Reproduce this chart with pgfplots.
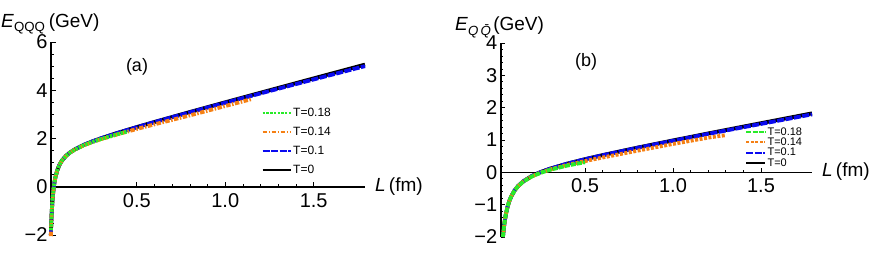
\documentclass[border=0pt]{standalone}
\usepackage{pgfplots}
\pgfplotsset{compat=1.18}
\usepackage{fontspec}
\setmainfont{Liberation Sans}
\definecolor{cgreen}{RGB}{40,235,40}
\definecolor{corange}{RGB}{245,128,20}
\definecolor{cblue}{RGB}{10,10,240}
\pgfplotsset{
  mystyle/.style={
    scale only axis,
    axis x line=middle, axis y line=left,
    axis line style={-, line width=1.6pt},
    tick align=inside,
    major tick length=4.5pt, minor tick length=2.5pt,
    tick style={black, line width=0.7pt},
    xticklabel style={font=\fontsize{20}{20}\selectfont, yshift=-3pt},
    yticklabel style={font=\fontsize{20}{20}\selectfont},
    xtick={0.5,1.0,1.5}, xticklabels={0.5,1.0,1.5}, minor x tick num=4,
    clip=false,
    legend reversed,
    legend cell align=left,
    legend image code/.code={\draw[#1] (0pt,0pt) -- (28pt,0pt);},
    legend image post style={line width=2pt},
  },
  cblack/.style={black, line width=3.8pt},
  cbl/.style={cblue, line width=3.8pt, dash pattern=on 7pt off 1.5pt},
}
\begin{document}
\begin{tikzpicture}
\useasboundingbox (0,0) rectangle (872pt,260pt);
% ---------- (a) ----------
\begin{axis}[mystyle,
  at={(51pt,25pt)}, anchor=south west,
  width=314pt, height=193pt,
  xmin=0.015, xmax=1.79, ymin=-2, ymax=6,
  ytick={-2,0,2,4,6}, yticklabels={−2,0,2,4,6}, minor y tick num=3,
  legend style={at={(axis cs:1.205,3.35)}, anchor=north west, draw=none, fill=none,
    font=\fontsize{12}{12}\selectfont, row sep=6.2pt, inner sep=0pt,
    nodes={inner sep=1.5pt}},
]
\addplot[cblack] table {
0.0142 -1.997
0.016 -1.586
0.018 -1.224
0.02 -0.934
0.025 -0.409
0.03 -0.056
0.035 0.199
0.04 0.393
0.05 0.670
0.06 0.861
0.07 1.003
0.08 1.114
0.1 1.282
0.12 1.407
0.15 1.551
0.2 1.735
0.25 1.884
0.3 2.015
0.4 2.253
0.5 2.474
0.6 2.686
0.8 3.098
1.0 3.501
1.2 3.899
1.4 4.295
1.6 4.690
1.79 5.064
};
\addlegendentry{T=0}
\addplot[cbl] table {
0.0142 -1.997
0.016 -1.586
0.018 -1.224
0.02 -0.934
0.025 -0.409
0.03 -0.056
0.035 0.199
0.04 0.393
0.05 0.670
0.06 0.861
0.07 1.003
0.08 1.114
0.1 1.282
0.12 1.407
0.15 1.551
0.2 1.734
0.25 1.883
0.3 2.013
0.4 2.250
0.5 2.469
0.6 2.679
0.8 3.085
1.0 3.481
1.2 3.870
1.4 4.256
1.6 4.639
1.79 5.000
};
\addlegendentry{T=0.1}
\addplot[corange, line width=3.8pt, dash pattern=on 4.5pt off 1.5pt on 1.5pt off 1.5pt] table {
0.0142 -2.05
0.016 -1.586
0.018 -1.224
0.02 -0.934
0.025 -0.409
0.03 -0.056
0.035 0.199
0.04 0.393
0.05 0.670
0.06 0.861
0.07 1.003
0.08 1.114
0.1 1.280
0.12 1.403
0.15 1.543
0.2 1.715
0.25 1.854
0.3 1.975
0.4 2.193
0.5 2.394
0.6 2.586
0.8 2.958
1.0 3.346
1.15 3.635
};
\addlegendentry{T=0.14}
\addplot[cgreen, line width=3.8pt, dash pattern=on 2.5pt off 1.2pt] table {
0.015 -1.802
0.016 -1.586
0.018 -1.224
0.02 -0.934
0.025 -0.409
0.03 -0.056
0.035 0.199
0.04 0.392
0.05 0.669
0.06 0.860
0.07 1.001
0.08 1.112
0.1 1.279
0.12 1.402
0.15 1.543
0.2 1.721
0.25 1.862
0.3 1.984
0.4 2.197
0.45 2.294
};
\addlegendentry{T=0.18}
\end{axis}
% ---------- (b) ----------
\begin{axis}[mystyle,
  at={(500.7pt,23pt)}, anchor=south west,
  width=311.3pt, height=194pt,
  xmin=0.021, xmax=1.79, ymin=-2, ymax=4,
  ytick={-2,-1,0,1,2,3,4}, yticklabels={−2,−1,0,1,2,3,4}, minor y tick num=4,
  legend style={at={(axis cs:1.41,1.43)}, anchor=north west, draw=none, fill=none,
    font=\fontsize{11}{11}\selectfont, row sep=-1.2pt, inner sep=0pt,
    nodes={inner sep=1.2pt}},
  legend image code/.code={\draw[#1] (0pt,0pt) -- (19pt,0pt);},
]
\addplot[cblack] table {
0.0337 -2.000
0.036 -1.865
0.04 -1.667
0.045 -1.468
0.05 -1.308
0.06 -1.065
0.07 -0.889
0.08 -0.754
0.1 -0.559
0.12 -0.422
0.15 -0.275
0.2 -0.108
0.25 0.013
0.3 0.110
0.4 0.271
0.5 0.407
0.6 0.533
0.8 0.766
1.0 0.987
1.2 1.203
1.4 1.415
1.6 1.625
1.79 1.824
};
\addlegendentry{T=0}
\addplot[cbl] table {
0.0337 -2.000
0.036 -1.865
0.04 -1.667
0.045 -1.468
0.05 -1.308
0.06 -1.065
0.07 -0.889
0.08 -0.754
0.1 -0.559
0.12 -0.422
0.15 -0.275
0.2 -0.108
0.25 0.012
0.3 0.109
0.4 0.269
0.5 0.405
0.6 0.529
0.8 0.760
1.0 0.977
1.2 1.189
1.4 1.395
1.6 1.599
1.79 1.792
};
\addlegendentry{T=0.1}
\addplot[corange, line width=3.8pt, dash pattern=on 3pt off 1.5pt] table {
0.0337 -2.000
0.036 -1.865
0.04 -1.667
0.045 -1.468
0.05 -1.308
0.06 -1.065
0.07 -0.889
0.08 -0.755
0.1 -0.561
0.12 -0.425
0.15 -0.280
0.2 -0.118
0.25 -0.005
0.3 0.085
0.4 0.231
0.5 0.347
0.6 0.458
0.8 0.671
1.0 0.877
1.2 1.073
1.3 1.150
};
\addlegendentry{T=0.14}
\addplot[cgreen, line width=3.8pt, dash pattern=on 5pt off 1.2pt] table {
0.0337 -2.000
0.036 -1.866
0.04 -1.668
0.045 -1.469
0.05 -1.309
0.06 -1.066
0.07 -0.891
0.08 -0.756
0.1 -0.563
0.12 -0.428
0.15 -0.284
0.2 -0.123
0.25 -0.011
0.3 0.076
0.4 0.210
0.5 0.312
};
\addlegendentry{T=0.18}
\end{axis}
% ---------- labels ----------
\node[anchor=west, inner sep=0pt, font=\fontsize{19}{19}\selectfont] at (1pt,236pt) {\textit{E}\textsubscript{QQQ}\,(GeV)};
\node[anchor=west, inner sep=0pt, font=\fontsize{19}{19}\selectfont] at (455pt,233pt) {\textit{E}\textsubscript{\textit{Q\,\=Q}}(GeV)};
\node[inner sep=0pt, font=\fontsize{18}{18}\selectfont] at (137pt,193pt) {(a)};
\node[inner sep=0pt, font=\fontsize{18}{18}\selectfont] at (586pt,198pt) {(b)};
\node[anchor=west, inner sep=0pt, font=\fontsize{19}{19}\selectfont] at (375pt,73pt) {\textit{L}\,(fm)};
\node[anchor=west, inner sep=0pt, font=\fontsize{19}{19}\selectfont] at (822pt,88pt) {\textit{L}\,(fm)};
\end{tikzpicture}
\end{document}
